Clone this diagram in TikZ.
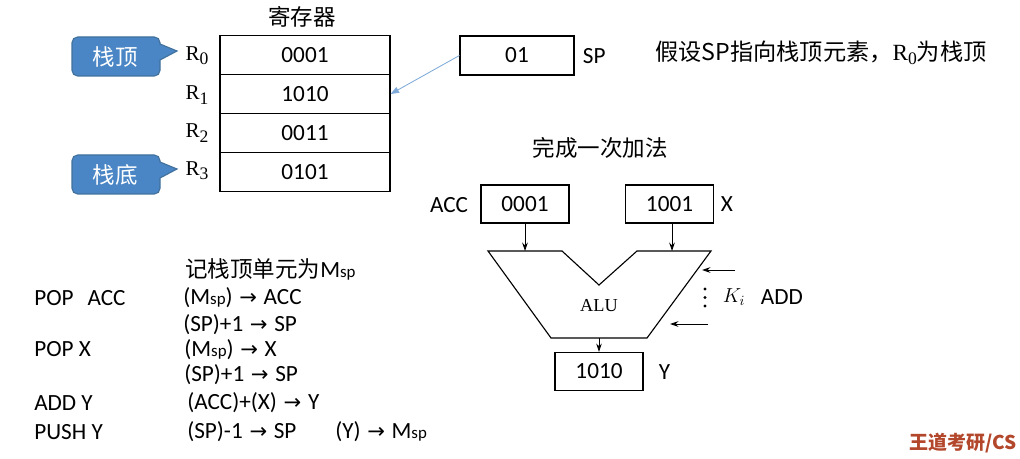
\documentclass[tikz,border=0pt]{standalone}
\usepackage{fontspec}
\setmainfont{Liberation Serif}
\setsansfont{Carlito}
\newfontfamily\cjk{Noto Sans CJK SC}
\newfontfamily\symf{DejaVu Sans}
\usetikzlibrary{arrows.meta}

\definecolor{calloutblue}{HTML}{4A86C5}
\definecolor{calloutedge}{HTML}{41719C}
\definecolor{sparrow}{HTML}{7FAAD8}
\definecolor{wdred}{HTML}{B3472B}

\newcommand{\Msp}{M{\fontsize{12}{12}\selectfont sp}}
\newcommand{\toarr}{\hspace{1pt}{\symf\fontsize{15}{15}\selectfont →}\hspace{1pt}}
\newcommand{\Rsub}[1]{{\rmfamily R\raisebox{-3pt}{\fontsize{12.5}{12.5}\selectfont #1}}}

\tikzset{
  regcell/.style={draw, line width=0.8pt, minimum width=4.25cm, minimum height=0.975cm,
    inner sep=0pt, font=\sffamily\fontsize{16.5}{18}\selectfont},
  databox/.style={draw, line width=0.8pt, minimum width=2.2cm, minimum height=0.95cm,
    inner sep=0pt, font=\sffamily\fontsize{16.5}{18}\selectfont},
  rlabel/.style={font=\rmfamily\fontsize{15}{18}\selectfont},
  plain/.style={font=\sffamily\fontsize{16.5}{18}\selectfont},
  listtext/.style={anchor=west, inner sep=0pt, font=\sffamily\fontsize{16.5}{18}\selectfont},
  cjktext/.style={font=\cjk\fontsize{16}{18}\selectfont},
  callout/.style={fill=calloutblue, draw=calloutedge, line width=0.8pt},
  callouttext/.style={text=white, font=\cjk\fontsize{16}{18}\selectfont},
  flow/.style={line width=0.6pt, -{Stealth[length=6pt, width=4pt]}}
}

\begin{document}
\begin{tikzpicture}[x=0.025cm, y=-0.025cm]
\useasboundingbox (0,0) rectangle (1020,459);

% Registers
\node[cjktext] (regtitle) at (302,17) {寄存器};
\node[regcell] (r0) at (305,55) {0001};
\node[regcell] (r1) at (305,94) {1010};
\node[regcell] (r2) at (305,133) {0011};
\node[regcell] (r3) at (305,172) {0101};
\node[rlabel] (lr0) at (197,56) {\Rsub{0}};
\node[rlabel] (lr1) at (197,95) {\Rsub{1}};
\node[rlabel] (lr2) at (197,133) {\Rsub{2}};
\node[rlabel] (lr3) at (197,171) {\Rsub{3}};

% Callouts
\filldraw[callout] (160,60) [rounded corners=4pt] -- (160,76) -- (72,76) -- (72,37) -- (160,37) [sharp corners] -- (160,44) -- (177,51) -- cycle;
\node[callouttext] (stacktop) at (115,57) {栈顶};
\filldraw[callout] (160,178) [rounded corners=4pt] -- (160,194) -- (72,194) -- (72,155) -- (160,155) [sharp corners] -- (160,162) -- (177,169) -- cycle;
\node[callouttext] (stackbot) at (115,175) {栈底};

% Stack pointer
\node[databox, minimum width=2.85cm, minimum height=0.975cm] (sp) at (517,55.5) {01};
\node[plain, anchor=west] (splabel) at (578,56) {SP};
\draw[sparrow, line width=0.6pt, -{Triangle[length=6pt, width=4.5pt]}] (sp.west) -- (r1.east);
\node[anchor=west, inner sep=0pt, font=\cjk\fontsize{16.5}{18}\selectfont] (note) at (655,53)
  {假设SP指向栈顶元素，\Rsub{0}为栈顶};

% ALU part
\node[cjktext] (addtitle) at (600,148) {完成一次加法};
\node[databox] (acc) at (525,204) {0001};
\node[plain, anchor=east] (acclabel) at (473,205) {ACC};
\node[databox] (xreg) at (669.5,204) {1001};
\node[plain, anchor=west] (xlabel) at (716,204) {X};
\coordinate (alutl) at (488,251);
\coordinate (aluil) at (562,251);
\coordinate (alunotch) at (599,285);
\coordinate (aluir) at (637,251);
\coordinate (alutr) at (711,251);
\coordinate (alubr) at (647,338);
\coordinate (alubl) at (551,338);
\draw[line width=0.8pt] (alutl) -- (aluil) -- (alunotch) -- (aluir) -- (alutr) -- (alubr) -- (alubl) -- cycle;
\node[font=\rmfamily\fontsize{13}{15}\selectfont] (alu) at (599,306) {ALU};
\coordinate (accin) at (525,251);
\coordinate (xin) at (672,251);
\draw[flow] (acc.south -| accin) -- (accin);
\draw[flow] (xreg.south -| xin) -- (xin);
\node[databox] (yreg) at (599,371.5) {1010};
\node[plain, anchor=west] (ylabel) at (654,372) {Y};
\coordinate (aluout) at (599,338);
\draw[flow] (aluout) -- (yreg.north);

% Control signals
\coordinate (k1s) at (735,270);
\coordinate (k1e) at (702,270);
\coordinate (k2s) at (708,324);
\coordinate (k2e) at (670,324);
\draw[flow] (k1s) -- (k1e);
\draw[flow] (k2s) -- (k2e);
\foreach \yy in {289,297.5,306} \fill (705,\yy) circle (1.2pt);
\node[font=\fontsize{14}{16}\selectfont] (ki) at (734,297) {$K_i$};
\node[plain, anchor=west] (addlabel) at (756,297) {ADD};

% Instructions
\node[anchor=west, inner sep=0pt, font=\cjk\fontsize{16}{18}\selectfont] (msptitle) at (185,269) {记栈顶单元为{\sffamily\fontsize{16.5}{18}\selectfont\Msp}};
\node[listtext] (i1) at (34,298) {POP\hspace{0.6em}ACC};
\node[listtext] (i2) at (34,349) {POP X};
\node[listtext] (i3) at (34,403) {ADD Y};
\node[listtext] (i4) at (34,432) {PUSH Y};
\node[listtext] (o1) at (183,298) {(\Msp) \toarr\ ACC};
\node[listtext] (o2) at (183,325) {(SP)+1 \toarr\ SP};
\node[listtext] (o3) at (184,350) {(\Msp) \toarr\ X};
\node[listtext] (o4) at (184,375) {(SP)+1 \toarr\ SP};
\node[listtext] (o5) at (187,403) {(ACC)+(X) \toarr\ Y};
\node[listtext] (o6) at (187,432) {(SP)-1 \toarr\ SP};
\node[listtext] (o7) at (335,432) {(Y) \toarr\ \Msp};

% Watermark
\node[anchor=east, inner sep=0pt, text=wdred, font=\cjk\bfseries\fontsize{13.5}{16}\selectfont] (mark) at (1017,443) {王道考研/CS};
\end{tikzpicture}
\end{document}
